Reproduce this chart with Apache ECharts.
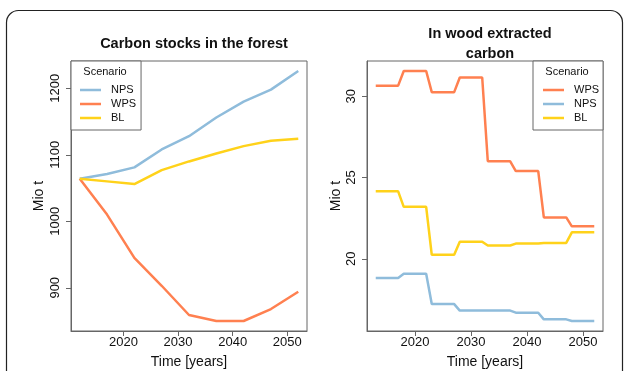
<!DOCTYPE html>
<html>
<head>
<meta charset="utf-8">
<script src="https://cdn.jsdelivr.net/npm/echarts@6/dist/echarts.min.js"></script>
<style>
  html, body { margin: 0; padding: 0; background: #fff; }
  #chart { width: 625px; height: 371px; }
</style>
</head>
<body>
<div id="chart"></div>
<script>
// Carbon stocks in the forest (Mio t), 5-year steps
var stockYears = [2012, 2017, 2022, 2027, 2032, 2037, 2042, 2047, 2052];
var stockNPS = [1064, 1071, 1081, 1108, 1128, 1156, 1180, 1198, 1226];
var stockWPS = [1064, 1010, 945, 903, 859, 850, 850, 868, 894];
var stockBL  = [1064, 1060, 1056, 1077, 1090, 1102, 1113, 1121, 1124];

// Carbon extracted in wood (Mio t), yearly
var extractYears = [2013, 2014, 2015, 2016, 2017, 2018, 2019, 2020, 2021, 2022,
                    2023, 2024, 2025, 2026, 2027, 2028, 2029, 2030, 2031, 2032,
                    2033, 2034, 2035, 2036, 2037, 2038, 2039, 2040, 2041, 2042,
                    2043, 2044, 2045, 2046, 2047, 2048, 2049, 2050, 2051, 2052];
var extractWPS = [30.65, 30.65, 30.65, 30.65, 30.65, 31.55, 31.55, 31.55, 31.55, 31.55,
                  30.25, 30.25, 30.25, 30.25, 30.25, 31.15, 31.15, 31.15, 31.15, 31.15,
                  26.0, 26.0, 26.0, 26.0, 26.0, 25.4, 25.4, 25.4, 25.4, 25.4,
                  22.55, 22.55, 22.55, 22.55, 22.55, 22.0, 22.0, 22.0, 22.0, 22.0];
var extractNPS = [18.82, 18.82, 18.82, 18.82, 18.82, 19.08, 19.08, 19.08, 19.08, 19.08,
                  17.22, 17.22, 17.22, 17.22, 17.22, 16.82, 16.82, 16.82, 16.82, 16.82,
                  16.82, 16.82, 16.82, 16.82, 16.82, 16.69, 16.69, 16.69, 16.69, 16.69,
                  16.28, 16.28, 16.28, 16.28, 16.28, 16.18, 16.18, 16.18, 16.18, 16.18];
var extractBL  = [24.15, 24.15, 24.15, 24.15, 24.15, 23.2, 23.2, 23.2, 23.2, 23.2,
                  20.25, 20.25, 20.25, 20.25, 20.25, 21.05, 21.05, 21.05, 21.05, 21.05,
                  20.82, 20.82, 20.82, 20.82, 20.82, 20.94, 20.94, 20.94, 20.94, 20.94,
                  20.98, 20.98, 20.98, 20.98, 20.98, 21.63, 21.63, 21.63, 21.63, 21.63];

var yearTicks = [2020, 2030, 2040, 2050];
var stockTicks = [900, 1000, 1100, 1200];
var extractTicks = [20, 25, 30];

var leftLegendOrder = ['NPS', 'WPS', 'BL'];
var rightLegendOrder = ['WPS', 'NPS', 'BL'];

var COLORS = { NPS: '#8FBCDB', WPS: '#FF8050', BL: '#FFD21A' };
var FONT = '"Liberation Sans", Arial, sans-serif';
var INK = '#111';
var FRAME = '#666';
// legend key: a 2.5px stroke centred in a 21x14 box (zero-area subpaths fix the bounds)
var LEGEND_KEY = 'path://M0,0L21,0L21,0Z M0,5.75L21,5.75L21,8.25L0,8.25Z M0,14L21,14L21,14Z';

function plain(v) { return String(v); }

function pairs(xs, ys) {
  return xs.map(function (x, i) { return [x, ys[i]]; });
}

function lineSeries(name, xi, xs, ys) {
  return {
    type: 'line', name: name, xAxisIndex: xi, yAxisIndex: xi,
    data: pairs(xs, ys), showSymbol: false, symbol: 'none',
    lineStyle: { width: 2.5, color: COLORS[name] },
    itemStyle: { color: COLORS[name] },
    animation: false
  };
}

function xAxisDef(gi, min, max) {
  return {
    type: 'value', gridIndex: gi, min: min, max: max,
    name: 'Time [years]', nameLocation: 'middle', nameGap: 24,
    nameTextStyle: { fontFamily: FONT, fontSize: 14, color: INK },
    axisLine: { show: true, onZero: false, lineStyle: { color: FRAME } },
    axisTick: { show: true, length: 5, customValues: yearTicks, lineStyle: { color: FRAME } },
    axisLabel: { customValues: yearTicks, formatter: plain, margin: 5, fontFamily: FONT, fontSize: 13, color: INK },
    splitLine: { show: false }
  };
}

function yAxisDef(gi, min, max, ticks, gap) {
  return {
    type: 'value', gridIndex: gi, min: min, max: max,
    name: 'Mio t', nameLocation: 'middle', nameGap: gap, nameRotate: 90,
    nameTextStyle: { fontFamily: FONT, fontSize: 14, color: INK },
    axisLine: { show: true, onZero: false, lineStyle: { color: FRAME } },
    axisTick: { show: true, length: 5, customValues: ticks, lineStyle: { color: FRAME } },
    axisLabel: { customValues: ticks, formatter: plain, rotate: 90, margin: 9, fontFamily: FONT, fontSize: 13, color: INK },
    splitLine: { show: false }
  };
}

function legendDef(left, names, padLeft, padRight) {
  return {
    orient: 'vertical', left: left, top: 61,
    data: names,
    icon: LEGEND_KEY,
    itemWidth: 21, itemHeight: 14, itemGap: 0,
    padding: [22, padRight, 5, padLeft],
    borderColor: FRAME, borderWidth: 1, backgroundColor: '#fff',
    selectedMode: false,
    itemStyle: { borderWidth: 0 },
    textStyle: { fontFamily: FONT, fontSize: 11, color: INK, lineHeight: 14, padding: [0, 0, 0, 5] }
  };
}

function gridDef(left) {
  return {
    left: left, top: 61, width: 236, height: 270,
    outerBoundsMode: 'none', containLabel: false,
    show: true, borderColor: FRAME, borderWidth: 1, backgroundColor: 'transparent'
  };
}

var chart = echarts.init(document.getElementById('chart'), null, { renderer: 'canvas' });

chart.setOption({
  animation: false,
  backgroundColor: '#fff',
  title: [
    {
      text: 'Carbon stocks in the forest', left: 189, top: 30, textAlign: 'center',
      textStyle: { fontFamily: FONT, fontSize: 14.5, fontWeight: 'bold', color: INK, lineHeight: 18 }
    },
    {
      text: 'In wood extracted\ncarbon', left: 485, top: 19, textAlign: 'center',
      textStyle: { fontFamily: FONT, fontSize: 14.5, fontWeight: 'bold', color: INK, lineHeight: 20 }
    }
  ],
  grid: [gridDef(71), gridDef(367)],
  xAxis: [
    xAxisDef(0, 2010.4, 2053.6),
    xAxisDef(1, 2011.44, 2053.56)
  ],
  yAxis: [
    yAxisDef(0, 834.96, 1241.04, stockTicks, 25),
    yAxisDef(1, 15.565, 32.165, extractTicks, 24)
  ],
  legend: [
    legendDef(71, leftLegendOrder, 9, 5),
    legendDef(533, rightLegendOrder, 10, 4)
  ],
  series: [
    lineSeries('NPS', 0, stockYears, stockNPS),
    lineSeries('WPS', 0, stockYears, stockWPS),
    lineSeries('BL', 0, stockYears, stockBL),
    lineSeries('WPS', 1, extractYears, extractWPS),
    lineSeries('NPS', 1, extractYears, extractNPS),
    lineSeries('BL', 1, extractYears, extractBL)
  ],
  graphic: [
    {
      type: 'rect', silent: true, z: 100,
      shape: { x: 6.5, y: 10.5, width: 616, height: 400, r: 12 },
      style: { fill: 'none', stroke: '#222', lineWidth: 1.2 }
    },
    {
      type: 'text', silent: true, z: 100, x: 105, y: 72,
      style: { text: 'Scenario', fontFamily: FONT, fontSize: 11, fill: INK, align: 'center', verticalAlign: 'middle' }
    },
    {
      type: 'text', silent: true, z: 100, x: 567, y: 72,
      style: { text: 'Scenario', fontFamily: FONT, fontSize: 11, fill: INK, align: 'center', verticalAlign: 'middle' }
    }
  ]
});
</script>
</body>
</html>
